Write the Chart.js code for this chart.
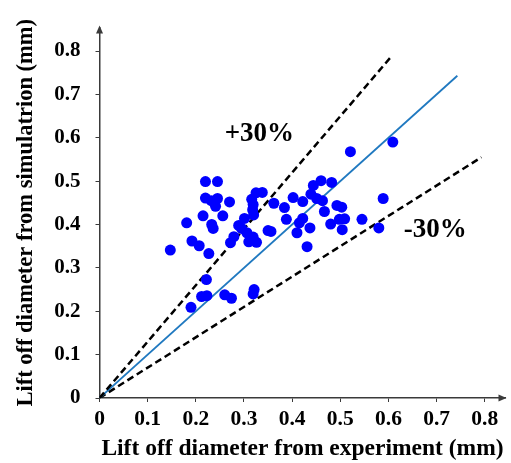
<!DOCTYPE html>
<html>
<head>
<meta charset="utf-8">
<script src="https://cdn.jsdelivr.net/npm/chart.js@4/dist/chart.umd.min.js"></script>
<style>
  html, body { margin: 0; padding: 0; background: #fff; }
  canvas { display: block; }
</style>
</head>
<body>
<canvas id="chart" width="511" height="463"></canvas>
<script>
// measured lift off diameters (mm)
const experiment = [
  0.220, 0.245, 0.220, 0.232, 0.245, 0.241, 0.270, 0.215, 0.256, 0.181,
  0.233, 0.236, 0.192, 0.207, 0.227, 0.147, 0.222, 0.212, 0.223, 0.260,
  0.274, 0.190, 0.272, 0.279, 0.289, 0.301, 0.295, 0.306, 0.319, 0.310,
  0.326, 0.316, 0.319, 0.318, 0.320, 0.325, 0.338, 0.362, 0.350, 0.356,
  0.321, 0.319, 0.402, 0.422, 0.384, 0.388, 0.422, 0.415, 0.410, 0.431,
  0.444, 0.460, 0.482, 0.439, 0.451, 0.463, 0.467, 0.493, 0.503, 0.437,
  0.480, 0.498, 0.509, 0.504, 0.545, 0.521, 0.609, 0.589, 0.580
];
// simulated lift off diameters (mm), same order
const simulation = [
  0.499, 0.499, 0.461, 0.455, 0.460, 0.442, 0.452, 0.420, 0.420, 0.404,
  0.400, 0.391, 0.362, 0.351, 0.333, 0.341, 0.273, 0.234, 0.236, 0.238,
  0.230, 0.209, 0.358, 0.372, 0.398, 0.414, 0.391, 0.381, 0.371, 0.360,
  0.359, 0.458, 0.446, 0.434, 0.422, 0.473, 0.474, 0.449, 0.386, 0.384,
  0.250, 0.240, 0.462, 0.453, 0.439, 0.412, 0.414, 0.404, 0.381, 0.349,
  0.490, 0.501, 0.497, 0.470, 0.460, 0.455, 0.430, 0.444, 0.440, 0.392,
  0.401, 0.412, 0.413, 0.388, 0.412, 0.568, 0.590, 0.460, 0.392
];

// reference lines: +30%, perfect agreement, -30%
const plusLineX = [0, 0.608];
const plusLineY = [0, 0.790];
const equalLineX = [0, 0.743];
const equalLineY = [0, 0.743];
const minusLineX = [0, 0.793];
const minusLineY = [0, 0.555];

const xTicks = [0, 0.1, 0.2, 0.3, 0.4, 0.5, 0.6, 0.7, 0.8];
const yTicks = [0, 0.1, 0.2, 0.3, 0.4, 0.5, 0.6, 0.7, 0.8];

const bandLabels = [
  { text: '+30%', x: 0.332, y: 0.609 },
  { text: '-30%', x: 0.697, y: 0.387 }
];

const toPoints = (xs, ys) => xs.map((x, i) => ({ x, y: ys[i] }));

const serif = "'Liberation Serif', 'Times New Roman', serif";
const axisColor = '#3a3a3a';

// band labels and arrow heads on the axes
const decorations = {
  id: 'decorations',
  afterDraw(chart) {
    const { ctx, chartArea, scales } = chart;
    ctx.save();
    ctx.fillStyle = '#000';
    ctx.font = 'bold 27px ' + serif;
    ctx.textAlign = 'center';
    ctx.textBaseline = 'middle';
    bandLabels.forEach(l => {
      ctx.fillText(l.text, scales.x.getPixelForValue(l.x), scales.y.getPixelForValue(l.y));
    });

    ctx.fillStyle = axisColor;
    const left = chartArea.left, top = chartArea.top;
    const right = chartArea.right, bottom = chartArea.bottom;
    ctx.beginPath();
    ctx.moveTo(left, top - 2);
    ctx.lineTo(left - 3.5, top + 6);
    ctx.lineTo(left + 3.5, top + 6);
    ctx.closePath();
    ctx.fill();
    ctx.beginPath();
    ctx.moveTo(right + 1, bottom);
    ctx.lineTo(right - 7, bottom - 3.5);
    ctx.lineTo(right - 7, bottom + 3.5);
    ctx.closePath();
    ctx.fill();
    ctx.restore();
  }
};

const lineStyle = {
  type: 'scatter',
  showLine: true,
  pointRadius: 0,
  fill: false
};

new Chart(document.getElementById('chart'), {
  type: 'scatter',
  data: {
    datasets: [
      {
        label: 'Bubbles',
        data: toPoints(experiment, simulation),
        pointRadius: 5.5,
        pointBackgroundColor: '#0000ff',
        pointBorderWidth: 0
      },
      Object.assign({}, lineStyle, {
        label: '+30%',
        data: toPoints(plusLineX, plusLineY),
        borderColor: '#000',
        borderWidth: 2.5,
        borderDash: [7, 4]
      }),
      Object.assign({}, lineStyle, {
        label: 'y = x',
        data: toPoints(equalLineX, equalLineY),
        borderColor: '#2079c0',
        borderWidth: 1.8
      }),
      Object.assign({}, lineStyle, {
        label: '-30%',
        data: toPoints(minusLineX, minusLineY),
        borderColor: '#000',
        borderWidth: 2.5,
        borderDash: [7, 4]
      })
    ]
  },
  options: {
    responsive: false,
    animation: false,
    layout: { padding: { top: 13, right: 1, left: 0, bottom: 0 } },
    plugins: {
      legend: { display: false },
      tooltip: { enabled: false }
    },
    scales: {
      x: {
        type: 'linear',
        min: 0,
        max: 0.843,
        afterBuildTicks: axis => { axis.ticks = xTicks.map(v => ({ value: v })); },
        afterFit: axis => { axis.height = 65; },
        grid: { drawOnChartArea: false, drawTicks: true, tickLength: 4, color: axisColor },
        border: { color: axisColor, width: 1.5 },
        ticks: {
          color: '#000',
          padding: 5,
          maxRotation: 0,
          font: { family: serif, size: 21.5, weight: 'bold' }
        },
        title: {
          display: true,
          text: 'Lift off diameter from experiment (mm)',
          color: '#000',
          padding: { top: 0, bottom: 0 },
          font: { family: serif, size: 23.5, weight: 'bold' }
        }
      },
      y: {
        type: 'linear',
        min: 0,
        max: 0.854,
        afterBuildTicks: axis => { axis.ticks = yTicks.map(v => ({ value: v })); },
        afterFit: axis => { axis.width = 99.5; },
        grid: { drawOnChartArea: false, drawTicks: true, tickLength: 4, color: axisColor },
        border: { color: axisColor, width: 1.5 },
        ticks: {
          color: '#000',
          padding: 15,
          font: { family: serif, size: 21, weight: 'bold' }
        },
        title: {
          display: true,
          text: 'Lift off diameter from simulatrion (mm)',
          color: '#000',
          padding: { top: 13, bottom: 0 },
          font: { family: serif, size: 22.5, weight: 'bold' }
        }
      }
    }
  },
  plugins: [decorations]
});
</script>
</body>
</html>
